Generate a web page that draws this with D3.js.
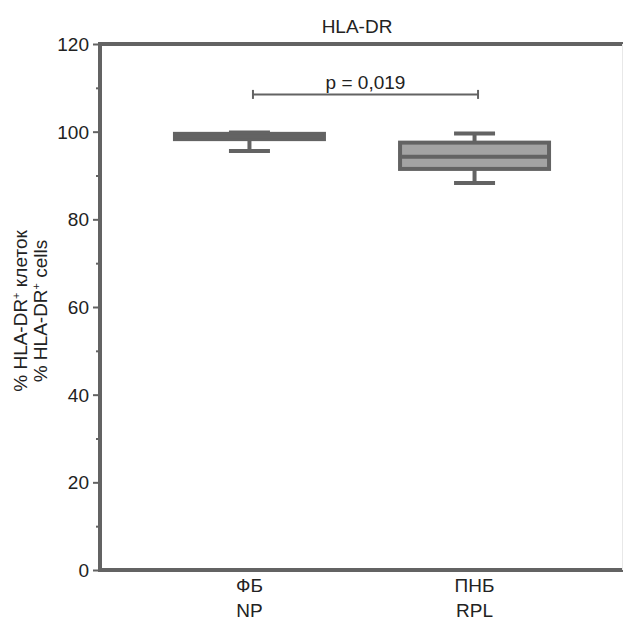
<!DOCTYPE html>
<html><head><meta charset="utf-8">
<script src="https://cdn.jsdelivr.net/npm/d3@7"></script>
<style>body{margin:0;background:#fff}svg{display:block}text{font-family:"Liberation Sans Narrow","Arial Narrow","Liberation Sans",sans-serif;fill:#222}</style>
</head><body><svg id="c" width="623" height="628"></svg>
<script>
const title = "HLA-DR";
const catRu = ["ФБ", "ПНБ"];
const catEn = ["NP", "RPL"];
const whiskerLow = [95.6, 88.3];
const q1 = [98.3, 91.5];
const median = [98.9, 94.3];
const q3 = [99.5, 97.5];
const whiskerHigh = [99.8, 99.6];
const yTicks = [0, 20, 40, 60, 80, 100, 120];
const yMinorTicks = [10, 30, 50, 70, 90, 110];
const pText = "p = 0,019";
const pLevel = 108.5;

const svg = d3.select("#c");
const stroke = "#636363";
const y = d3.scaleLinear().domain([0, 120]).range([570, 44]);
const x = d3.scalePoint().domain(catEn).range([100, 624]).padding(0.664);
const boxW = 149, capW = 41;

// frame lines
svg.append("line").attr("x1", 100).attr("x2", 623).attr("y1", y(120)).attr("y2", y(120)).attr("stroke", stroke).attr("stroke-width", 4);
svg.append("line").attr("x1", 100).attr("x2", 623).attr("y1", y(0)).attr("y2", y(0)).attr("stroke", stroke).attr("stroke-width", 4);
svg.append("line").attr("x1", 622.5).attr("x2", 622.5).attr("y1", y(120)).attr("y2", y(0)).attr("stroke", "#e8e8e8").attr("stroke-width", 1);

// y axis
const ax = svg.append("g").attr("transform", "translate(100,0)")
  .call(d3.axisLeft(y).tickValues(yTicks).tickSize(7).tickPadding(4).tickFormat(d3.format("d")));
ax.select(".domain").remove();
ax.selectAll(".tick line").attr("stroke", stroke).attr("stroke-width", 2);
ax.selectAll(".tick text").attr("font-size", 19).attr("fill", "#222").attr("dy", "0.35em")
  .style("font-family", '"Liberation Sans Narrow","Arial Narrow",sans-serif');
const axm = svg.append("g").attr("transform", "translate(100,0)")
  .call(d3.axisLeft(y).tickValues(yMinorTicks).tickSize(4).tickFormat(""));
axm.select(".domain").remove();
axm.selectAll(".tick line").attr("stroke", stroke).attr("stroke-width", 2);
svg.append("line").attr("x1", 100).attr("x2", 100).attr("y1", y(120) - 2).attr("y2", y(0) + 2).attr("stroke", stroke).attr("stroke-width", 4);

// boxes
catEn.forEach((c, i) => {
  const cx = x(c);
  const g = svg.append("g");
  // whiskers
  g.append("line").attr("x1", cx).attr("x2", cx).attr("y1", y(q3[i])).attr("y2", y(whiskerHigh[i])).attr("stroke", stroke).attr("stroke-width", 4);
  g.append("line").attr("x1", cx).attr("x2", cx).attr("y1", y(q1[i])).attr("y2", y(whiskerLow[i])).attr("stroke", stroke).attr("stroke-width", 4);
  g.append("line").attr("x1", cx - capW / 2).attr("x2", cx + capW / 2).attr("y1", y(whiskerHigh[i])).attr("y2", y(whiskerHigh[i])).attr("stroke", stroke).attr("stroke-width", 4);
  g.append("line").attr("x1", cx - capW / 2).attr("x2", cx + capW / 2).attr("y1", y(whiskerLow[i])).attr("y2", y(whiskerLow[i])).attr("stroke", stroke).attr("stroke-width", 4);
  g.append("rect").attr("x", cx - boxW / 2).attr("width", boxW)
    .attr("y", y(q3[i])).attr("height", y(q1[i]) - y(q3[i]))
    .attr("fill", "#a3a3a3").attr("stroke", stroke).attr("stroke-width", 4);
  g.append("line").attr("x1", cx - boxW / 2).attr("x2", cx + boxW / 2).attr("y1", y(median[i])).attr("y2", y(median[i])).attr("stroke", stroke).attr("stroke-width", 4);
  // x labels
  svg.append("text").attr("x", cx).attr("y", 592).attr("text-anchor", "middle").attr("font-size", 19).text(catRu[i]);
  svg.append("text").attr("x", cx).attr("y", 617).attr("text-anchor", "middle").attr("font-size", 19).text(catEn[i]);
});

// significance bracket
const bx1 = x(catEn[0]) + 3.5, bx2 = x(catEn[1]) + 3.5, by = y(pLevel);
svg.append("line").attr("x1", bx1).attr("x2", bx2).attr("y1", by).attr("y2", by).attr("stroke", stroke).attr("stroke-width", 2);
[bx1, bx2].forEach(bx => svg.append("line").attr("x1", bx).attr("x2", bx).attr("y1", by - 4.5).attr("y2", by + 4.5).attr("stroke", stroke).attr("stroke-width", 2));
svg.append("text").attr("x", (bx1 + bx2) / 2).attr("y", 89).attr("text-anchor", "middle").attr("font-size", 19).text(pText);

// title
svg.append("text").attr("x", 357).attr("y", 33).attr("text-anchor", "middle").attr("font-size", 19).text(title);

// y label
const yl = svg.append("text").attr("transform", "translate(0,311) rotate(-90)").attr("text-anchor", "middle").attr("font-size", 19);
const l1 = yl.append("tspan").attr("x", 0).attr("y", 27);
l1.append("tspan").text("% HLA-DR");
l1.append("tspan").attr("font-size", 11).attr("dy", -7).text("+");
l1.append("tspan").attr("dy", 7).text(" клеток");
const l2 = yl.append("tspan").attr("x", 0).attr("y", 47);
l2.append("tspan").text("% HLA-DR");
l2.append("tspan").attr("font-size", 11).attr("dy", -7).text("+");
l2.append("tspan").attr("dy", 7).text(" cells");
</script></body></html>
